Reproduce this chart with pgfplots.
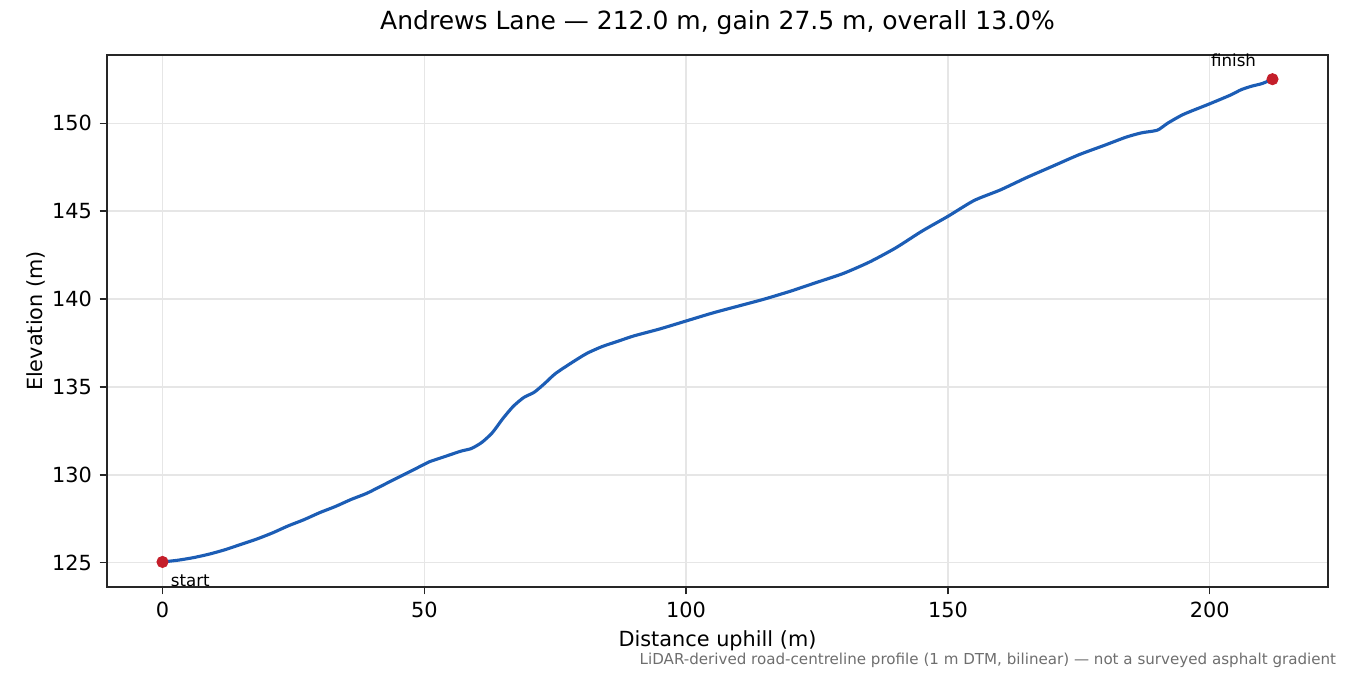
\documentclass[border=0pt]{standalone}
\usepackage{fontspec}
\setmainfont{DejaVu Sans}
\usepackage{pgfplots}
\pgfplotsset{compat=1.18}
\definecolor{lineblue}{HTML}{1C5DB5}
\definecolor{dotred}{HTML}{C41E2A}
\definecolor{gridgray}{HTML}{E6E6E6}
\definecolor{notegray}{HTML}{6E6E6E}
\begin{document}
\begin{tikzpicture}
\useasboundingbox (0,0) rectangle (648pt,324pt);
\begin{axis}[
    at={(51.36pt,42.24pt)},
    anchor=south west,
    scale only axis,
    width=586.08pt,
    height=255.36pt,
    xmin=-10.6, xmax=222.6,
    ymin=123.625, ymax=153.875,
    xtick={0,50,100,150,200},
    ytick={125,130,135,140,145,150},
    tick align=outside,
    major tick length=3.5pt,
    tick style={black!85, line width=0.6pt},
    axis line style={black!85, line width=0.6pt},
    xtick pos=bottom, ytick pos=left,
    grid=major,
    major grid style={gridgray, line width=0.6pt},
    /pgf/number format/assume math mode=true,
    /pgf/number format/1000 sep={},
    ticklabel style={font=\fontsize{10}{12}\selectfont},
    xticklabel style={anchor=north, inner sep=0pt, yshift=-3.5pt},
    yticklabel style={anchor=east, inner sep=0pt, xshift=-3.5pt},
    xlabel={Distance uphill (m)},
    ylabel={Elevation (m)},
    xlabel style={at={(axis description cs:0.5,0)}, anchor=base, yshift=-28.8pt, font=\fontsize{10}{12}\selectfont},
    ylabel style={at={(axis description cs:-0.0532,0.5)}, anchor=base, rotate=0, font=\fontsize{10}{12}\selectfont},
    title={Andrews Lane — 212.0 m, gain 27.5 m, overall 13.0\%},
    title style={at={(axis description cs:0.5,1)}, anchor=base, yshift=6pt, font=\fontsize{12}{14}\selectfont},
    clip mode=individual,
]
\addplot[lineblue, line width=1.5pt, smooth, tension=0.4] coordinates {
    (0,125.05) (3,125.15) (6,125.3) (9,125.5) (12,125.75) (15,126.05)
    (18,126.35) (21,126.7) (24,127.1) (27,127.45) (30,127.85) (33,128.2)
    (36,128.6) (39,128.95) (42,129.4) (45,129.85) (48,130.3) (50,130.6)
    (51,130.75) (54,131.05) (57,131.35) (59,131.5) (61,131.85) (63,132.4)
    (65,133.2) (67,133.9) (69,134.4) (71,134.7) (73,135.2) (75,135.75)
    (78,136.35) (81,136.9) (84,137.3) (87,137.6) (90,137.9) (95,138.3)
    (100,138.75) (105,139.2) (110,139.6) (115,140.0) (120,140.45) (122,140.65)
    (125,140.95) (130,141.45) (135,142.1) (140,142.9) (145,143.85) (150,144.7)
    (155,145.6) (160,146.2) (165,146.9) (170,147.55) (175,148.2) (180,148.75)
    (184,149.2) (187,149.45) (190,149.6) (192,150.0) (195,150.5) (200,151.1)
    (204,151.6) (206,151.9) (208,152.1) (210,152.25) (212,152.5)
};
\addplot[only marks, mark=*, mark size=2.7pt, dotred, mark options={draw=dotred, fill=dotred}] coordinates {
    (0,125.05) (212,152.5)
};
\node[anchor=base west, inner sep=0pt, font=\fontsize{8}{10}\selectfont, xshift=3.8pt, yshift=-12pt] at (axis cs:0,125.05) {start};
\node[anchor=base east, inner sep=0pt, font=\fontsize{8}{10}\selectfont, xshift=-7.7pt, yshift=6.2pt] at (axis cs:212,152.5) {finish};
\end{axis}
\node[anchor=south east, inner sep=0pt, text=notegray, font=\fontsize{7.25}{9}\selectfont] at (641.52pt,3.24pt) {LiDAR-derived road-centreline profile (1 m DTM, bilinear) — not a surveyed asphalt gradient};
\end{tikzpicture}
\end{document}
